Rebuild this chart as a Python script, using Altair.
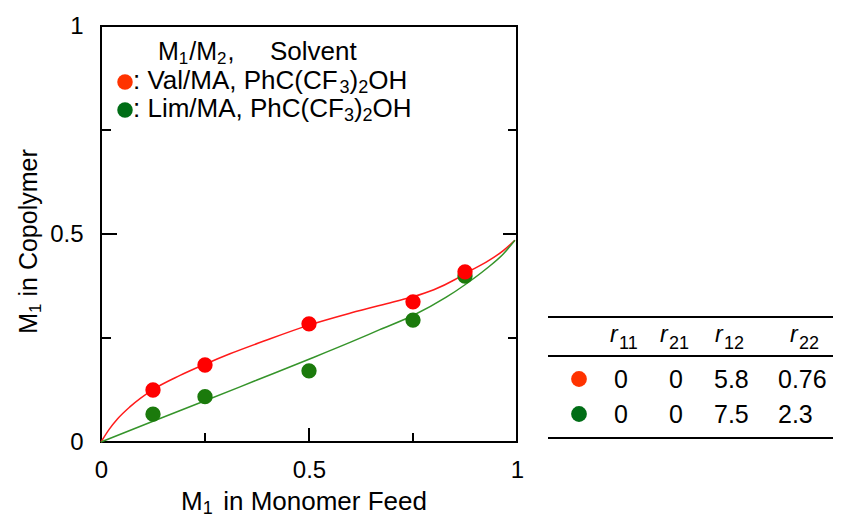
import altair as alt
import pandas as pd

# ---- data ----
feed = [0.125, 0.25, 0.5, 0.75, 0.875]
val_cop = [0.125, 0.185, 0.284, 0.337, 0.409]
lim_cop = [0.067, 0.109, 0.171, 0.293, 0.399]

val_curve_x = [0.0, 0.02, 0.04, 0.07, 0.125, 0.19, 0.25, 0.31, 0.39, 0.5, 0.6, 0.7, 0.75, 0.8, 0.85, 0.875, 0.927, 0.967, 0.995]
val_curve_y = [0.0, 0.031, 0.056, 0.085, 0.126, 0.160, 0.187, 0.212, 0.242, 0.281, 0.310, 0.336, 0.349, 0.366, 0.390, 0.405, 0.433, 0.460, 0.485]
lim_curve_x = [0.0, 0.125, 0.25, 0.375, 0.5, 0.6, 0.67, 0.75, 0.83, 0.875, 0.927, 0.967, 0.995]
lim_curve_y = [0.0, 0.050, 0.099, 0.149, 0.199, 0.240, 0.270, 0.304, 0.348, 0.378, 0.417, 0.452, 0.485]

tick_major = [0.5]
tick_minor = [0.25, 0.75]
axis_labels = [0, 0.5, 1]

legend_head = [("M", 0), ("1", 1), ("/M", 0), ("2", 1), (",", 0)]
legend_solvent = "Solvent"
legend_val = [(": Val/MA, PhC(CF", 0), ("3", 1), (")", 0), ("2", 1), ("OH", 0)]
legend_lim = [(": Lim/MA, PhC(CF", 0), ("3", 1), (")", 0), ("2", 1), ("OH", 0)]
x_title = [("M", 0), ("1", 1), ("  in Monomer Feed", 0)]
y_title = [("M", 0), ("1", 1), (" in Copolymer", 0)]

r_heads = ["11", "21", "12", "22"]
r11 = ["0", "0"]
r21 = ["0", "0"]
r12 = ["5.8", "7.5"]
r22 = ["0.76", "2.3"]

FONT = "Liberation Sans"
W, H = 416, 416
OX, OY = 101, 26  # page position of plot origin

RED_PT, GREEN_PT = "#ff0000", "#1b7a0c"
RED_LG, GREEN_LG = "#ff3300", "#006d16"
RED_LN, GREEN_LN = "#ff1a1a", "#35942a"

# Arial / Liberation Sans advance widths (1/1000 em) for text layout
ADV = {" ": 278, ":": 278, ",": 278, "/": 278, "(": 333, ")": 333, ".": 278,
       "A": 667, "C": 722, "F": 611, "H": 722, "L": 556, "M": 833, "O": 778,
       "P": 667, "S": 667, "V": 667, "a": 556, "d": 556, "e": 556, "h": 556,
       "i": 222, "l": 222, "m": 833, "n": 556, "o": 556, "p": 556, "r": 333,
       "t": 278, "v": 500, "y": 500}


def tw(s, size):
    return sum(ADV.get(c, 556) for c in s) * size / 1000.0


xs = alt.Scale(domain=[0, 1], nice=False, zero=False)
ys = alt.Scale(domain=[0, 1], nice=False, zero=False)

x_axis = alt.Axis(values=axis_labels, format="~g", ticks=False, domain=False, grid=False,
                  labelPadding=16, title=None, labelFlush=False)
y_axis = alt.Axis(values=axis_labels, format="~g", ticks=False, domain=False, grid=False,
                  labelPadding=18, title=None, labelFlush=False)


def curve(xv, yv, color):
    df = pd.DataFrame({"x": xv, "y": yv})
    return alt.Chart(df).mark_line(strokeWidth=1.5, interpolate="monotone", color=color).encode(
        x=alt.X("x:Q", scale=xs, axis=x_axis), y=alt.Y("y:Q", scale=ys, axis=y_axis))


def scatter(xv, yv, color):
    df = pd.DataFrame({"x": xv, "y": yv})
    return alt.Chart(df).mark_circle(size=235, opacity=1, color=color).encode(
        x=alt.X("x:Q", scale=xs), y=alt.Y("y:Q", scale=ys))


data_layers = [
    curve(val_curve_x, val_curve_y, RED_LN),
    curve(lim_curve_x, lim_curve_y, GREEN_LN),
    scatter(feed, lim_cop, GREEN_PT),
    scatter(feed, val_cop, RED_PT),
]


def ticks_x(vals, length):
    return alt.Chart(pd.DataFrame({"v": vals})).mark_rule(color="black", strokeWidth=2).encode(
        x=alt.X("v:Q", scale=xs), y=alt.value(H), y2=alt.value(H - length))


def ticks_y(vals, length, side):
    x0 = 0 if side == "left" else W
    x1 = length if side == "left" else W - length
    return alt.Chart(pd.DataFrame({"v": vals})).mark_rule(color="black", strokeWidth=2).encode(
        y=alt.Y("v:Q", scale=ys), x=alt.value(x0), x2=alt.value(x1))


tick_layers = [
    ticks_x(tick_major, 14), ticks_x(tick_minor, 9),
    ticks_y(tick_major, 16, "left"), ticks_y(tick_minor, 10, "left"),
    ticks_y(tick_major, 14, "right"), ticks_y(tick_minor, 9, "right"),
]


def label(txt, px, py, size=24, align="left", style="normal", angle=0, dy=0):
    kw = dict(font=FONT, fontSize=size, color="black", align=align,
              baseline="alphabetic", fontStyle=style)
    if angle:
        kw["angle"] = angle
    if dy:
        kw["dy"] = dy
    return alt.Chart(pd.DataFrame({"t": [txt]})).mark_text(**kw).encode(
        x=alt.value(px - OX), y=alt.value(py - OY), text="t:N")


def rich(pieces, px, py, size, sub_size, sub_dy=4, angle=0, sub_gap=0.0):
    """Lay text pieces (normal / subscript) one after another."""
    out = []
    adv = 0.0
    for txt, is_sub in pieces:
        s = sub_size if is_sub else size
        stripped = txt.lstrip(" ")
        adv += tw(txt[: len(txt) - len(stripped)], s)  # leading blanks as a gap
        if angle == 270:
            qx, qy = px, py - adv
        else:
            qx, qy = px + adv, py
        out.append(label(stripped, qx, qy, size=s, angle=angle, dy=sub_dy if is_sub else 0))
        adv += tw(stripped, s) + (sub_gap if is_sub else 0.0)
    return out


def rich_width(pieces, size, sub_size):
    return sum(tw(t, sub_size if s else size) for t, s in pieces)


def dot(px, py, color, size=240):
    return alt.Chart(pd.DataFrame({"t": [0]})).mark_circle(size=size, opacity=1, color=color).encode(
        x=alt.value(px - OX), y=alt.value(py - OY))


def hrule(py, x0=548, x1=840):
    return alt.Chart(pd.DataFrame({"t": [0]})).mark_rule(color="black", strokeWidth=2).encode(
        x=alt.value(x0 - OX), x2=alt.value(x1 - OX), y=alt.value(py - OY))


text_layers = []
# axis titles
xw = rich_width(x_title, 26, 18) - 4
text_layers += rich(x_title, 304 - xw / 2, 510, 26, 18, sub_dy=4, sub_gap=-4)
yw = rich_width(y_title, 25, 17)
text_layers += rich(y_title, 37, 241.5 + yw / 2, 25, 17, sub_dy=4, angle=270)

# legend inside the plot
text_layers += rich(legend_head, 158, 60, 25, 17, sub_dy=4, sub_gap=1)
text_layers.append(label(legend_solvent, 270, 60, size=26))
text_layers.append(dot(125, 82, RED_LG))
text_layers += rich(legend_val, 133, 89, 26, 18, sub_dy=4)
text_layers.append(dot(125, 110, GREEN_LG))
text_layers += rich(legend_lim, 133, 117, 26, 18, sub_dy=4)

# table of reactivity ratios
table_layers = [hrule(317), hrule(356), hrule(438)]
head_x = [610, 660, 715, 790]
for hx, sub in zip(head_x, r_heads):
    table_layers.append(label("r", hx, 342, size=23, style="italic"))
    table_layers.append(label(sub, hx + 9, 349, size=18))

row_y = [388, 423]
row_col = [RED_LG, GREEN_LG]
for i in range(2):
    table_layers.append(dot(579, row_y[i] - 9, row_col[i], size=250))
    table_layers.append(label(r11[i], 621, row_y[i], size=25, align="center"))
    table_layers.append(label(r21[i], 676, row_y[i], size=25, align="center"))
    table_layers.append(label(r12[i], 714, row_y[i], size=25))
    table_layers.append(label(r22[i], 778, row_y[i], size=25))

chart = alt.layer(*data_layers, *tick_layers, *text_layers, *table_layers).properties(
    width=W, height=H,
    autosize=alt.AutoSizeParams(type="none"),
    padding={"left": OX - 8, "top": OY - 8, "right": 825 - (OX - 8) - W,
             "bottom": 519 - 8 - (OY - 8) - H},
).configure_view(stroke="black", strokeWidth=2).configure_axis(
    labelFont=FONT, labelFontSize=24, labelColor="black",
)

chart.save("out.html", embed_options={"renderer": "svg", "actions": False})
